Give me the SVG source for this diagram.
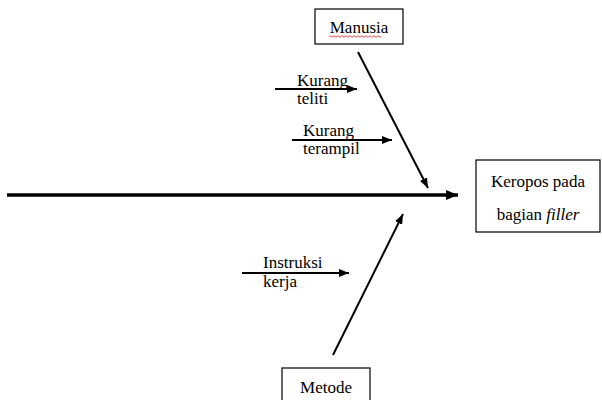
<svg xmlns="http://www.w3.org/2000/svg" width="602" height="400" viewBox="0 0 602 400">
<style>
.t{font-family:'Liberation Serif','Times New Roman','DejaVu Serif',Times,serif;font-size:17px;fill:#000}
.box{fill:#fff;stroke:#000;stroke-width:1.2}
.ln{stroke:#000;stroke-width:2;fill:none}
</style>
<defs>
<marker id="ah" viewBox="0 0 10 8" refX="10" refY="4" markerWidth="10" markerHeight="8" markerUnits="userSpaceOnUse" orient="auto">
<path d="M0,0 L10,4 L0,8 Z" fill="#000"/>
</marker>
<marker id="ahb" viewBox="0 0 12 10" refX="12" refY="5" markerWidth="12" markerHeight="10" markerUnits="userSpaceOnUse" orient="auto">
<path d="M0,0 L12,5 L0,10 Z" fill="#000"/>
</marker>
</defs>
<rect width="602" height="400" fill="#fff"/>
<g id="connectors">
<line x1="7" y1="195" x2="458" y2="195" stroke="#000" stroke-width="3.5" marker-end="url(#ahb)"/>
<line class="ln" x1="358" y1="52" x2="428" y2="188" marker-end="url(#ah)"/>
<line class="ln" x1="333" y1="355" x2="403" y2="214" marker-end="url(#ah)"/>
<line class="ln" x1="275" y1="89" x2="357" y2="89" marker-end="url(#ah)"/>
<line class="ln" x1="292" y1="140" x2="392" y2="140" marker-end="url(#ah)"/>
<line class="ln" x1="242" y1="273" x2="349" y2="273" marker-end="url(#ah)"/>
</g>
<g id="manusia">
<rect class="box" x="315" y="9" width="88" height="35"/>
<text class="t" x="359" y="33" text-anchor="middle" font-family="Liberation Serif, serif">Manusia</text>
<path d="M329,36.5 q1,-1.5 2,0 t2,0 t2,0 t2,0 t2,0 t2,0 t2,0 t2,0 t2,0 t2,0 t2,0 t2,0 t2,0 t2,0 t2,0 t2,0 t2,0 t2,0 t2,0 t2,0 t2,0 t2,0 t2,0 t2,0 t2,0 t2,0" fill="none" stroke="#e02020" stroke-width="0.8"/>
</g>
<g id="kurang-teliti">
<text class="t" x="297" y="86">Kurang</text>
<text class="t" x="297" y="104">teliti</text>
</g>
<g id="kurang-terampil">
<text class="t" x="303" y="136">Kurang</text>
<text class="t" x="303" y="154">terampil</text>
</g>
<g id="instruksi-kerja">
<text class="t" x="263" y="268">Instruksi</text>
<text class="t" x="263" y="287">kerja</text>
</g>
<g id="effect">
<rect class="box" x="476" y="160" width="124" height="72"/>
<text class="t" x="538" y="187" text-anchor="middle">Keropos pada</text>
<text class="t" x="538" y="220" text-anchor="middle">bagian <tspan font-style="italic">filler</tspan></text>
</g>
<g id="metode">
<rect class="box" x="282" y="368" width="88" height="40"/>
<text class="t" x="326" y="393" text-anchor="middle">Metode</text>
</g>
</svg>
